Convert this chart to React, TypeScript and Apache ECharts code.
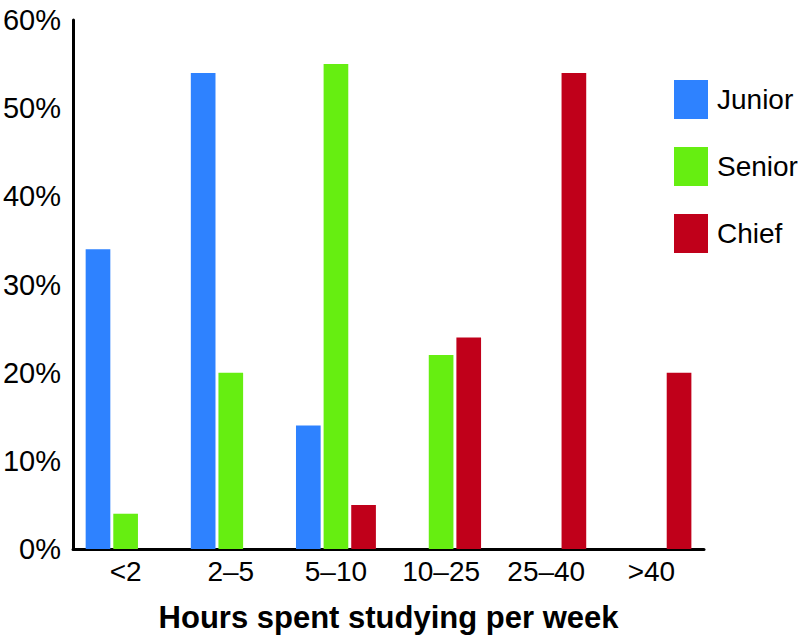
import React, { useEffect, useRef } from "react";
import * as echarts from "echarts";

const categories = ["<2", "2\u20135", "5\u201310", "10\u201325", "25\u201340", ">40"];
const junior = [34, 54, 14, 0, 0, 0];
const senior = [4, 20, 55, 22, 0, 0];
const chief = [0, 0, 5, 24, 54, 20];
const seriesNames = ["Junior", "Senior", "Chief"];
const colors = ["#2e82ff", "#66ee11", "#c0001a"];

const FONT = "Liberation Sans, Arial, Helvetica, sans-serif";

export default function App() {
  const ref = useRef<HTMLDivElement>(null);
  useEffect(() => {
    const chart = echarts.init(ref.current!, null, { renderer: "svg" });
    const data = [junior, senior, chief];
    chart.setOption({
      animation: false,
      backgroundColor: "#ffffff",
      grid: { left: 69, right: 102, top: 20, bottom: 94, containLabel: false },
      legend: {
        orient: "vertical",
        left: 669,
        top: 75,
        itemWidth: 34,
        itemHeight: 39,
        itemGap: 28,
        icon: "rect",
        textStyle: { fontFamily: FONT, fontSize: 28, color: "#000", padding: [0, 0, 0, 4] },
        data: seriesNames,
      },
      xAxis: {
        type: "category",
        data: categories,
        axisLine: { lineStyle: { color: "#000", width: 3 } },
        axisTick: { show: false },
        axisLabel: { fontFamily: FONT, fontSize: 28, color: "#000", margin: 8 },
        name: "Hours spent studying per week",
        nameLocation: "middle",
        nameGap: 53,
        nameTextStyle: { fontFamily: FONT, fontSize: 31, fontWeight: "bold", color: "#000" },
      },
      yAxis: {
        type: "value",
        min: 0,
        max: 60,
        interval: 10,
        axisLine: { show: true, lineStyle: { color: "#000", width: 3 } },
        axisTick: { show: false },
        splitLine: { show: false },
        axisLabel: { fontFamily: FONT, fontSize: 29, color: "#000", margin: 12, formatter: "{value}%" },
      },
      series: seriesNames.map((n, i) => ({
        name: n,
        type: "bar",
        data: data[i],
        barGap: "12%",
        barCategoryGap: "24%",
        itemStyle: { color: colors[i] },
      })),
    });
    return () => chart.dispose();
  }, []);
  return <div ref={ref} style={{ width: 806, height: 643, position: "absolute", left: 0, top: 0 }} />;
}
